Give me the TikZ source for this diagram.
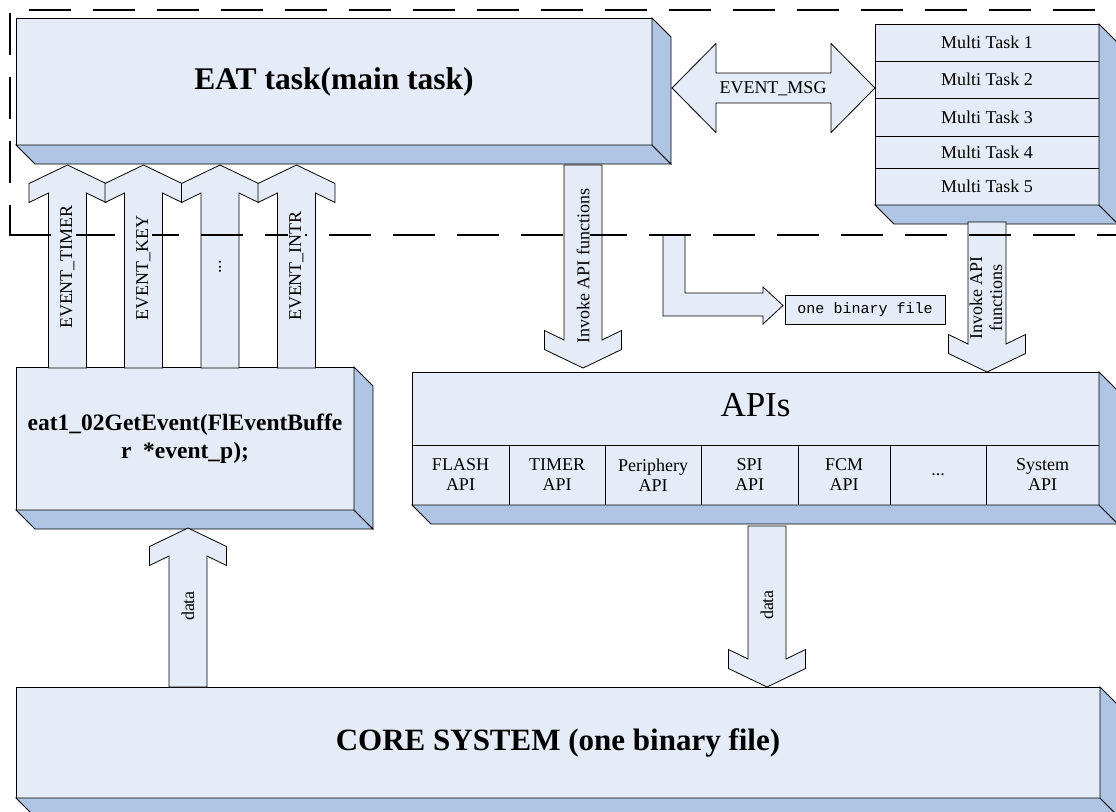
\documentclass[tikz,border=0pt]{standalone}
\usepackage{fontspec}
\setmainfont{Liberation Serif}
\newfontfamily\monofont{Liberation Mono}
\definecolor{frontc}{RGB}{229,236,247}
\definecolor{sidec}{RGB}{176,197,228}
\tikzset{
  face/.style={draw, fill=frontc, line width=0.9pt, inner sep=0pt, outer sep=0pt, align=center},
  sideface/.style={draw, fill=sidec, line width=0.9pt},
  blk/.style={draw, fill=frontc, line width=0.8pt},
  lbl/.style={font=\fontsize{18}{20}\selectfont, inner sep=1pt, fill=frontc, align=center},
  txt/.style={font=\fontsize{18}{20}\selectfont, inner sep=0pt, align=center},
  bound/.style={line width=2.6pt, dash pattern=on 42pt off 22pt},
  divline/.style={line width=0.9pt},
}
% 3D box: name, x1, y1, x2, y2, options, text
\newcommand{\threedbox}[7]{%
  \node[face, minimum width={#4-#2}, minimum height={#5-#3}, #6] (#1) at ({(#2+#4)/2},{(#3+#5)/2}) {#7};
  \draw[sideface] (#1.south west) -- ++(19,19) -- ([shift={(19,19)}]#1.south east) -- (#1.south east) -- cycle;
  \draw[sideface] (#1.north east) -- ++(19,19) -- ([shift={(19,19)}]#1.south east) -- (#1.south east) -- cycle;
}
% vertical block arrow: centre x, tip y, tail y
\newcommand{\vblock}[3]{%
  \pgfmathsetmacro{\blkdir}{(#3>#2)?1:-1}
  \draw[blk] (#1,#2) -- ({#1+38.5},{#2+18.5*\blkdir}) -- ({#1+38.5},{#2+37.5*\blkdir})
    -- ({#1+19},{#2+28*\blkdir}) -- ({#1+19},#3) -- ({#1-19},#3) -- ({#1-19},{#2+28*\blkdir})
    -- ({#1-38.5},{#2+37.5*\blkdir}) -- ({#1-38.5},{#2+18.5*\blkdir}) -- cycle;
}
\begin{document}
\begin{tikzpicture}[x=1pt, y=-1pt]
\useasboundingbox (0,0) rectangle (1116,811);
\clip (0,0) rectangle (1116,811);

% boxes
\threedbox{eat}{16}{18}{652}{145}{font=\fontsize{31.5}{36}\selectfont\bfseries}{EAT task(main task)}
\threedbox{multi}{875}{24}{1099}{205}{}{}
\draw[divline] (875,61) -- (1099,61);
\draw[divline] (875,98) -- (1099,98);
\draw[divline] (875,136) -- (1099,136);
\draw[divline] (875,168) -- (1099,168);
\node[txt] (mt1) at (987,42.5) {Multi Task 1};
\node[txt] (mt2) at (987,79.5) {Multi Task 2};
\node[txt] (mt3) at (987,117) {Multi Task 3};
\node[txt] (mt4) at (987,152) {Multi Task 4};
\node[txt] (mt5) at (987,186.5) {Multi Task 5};

\threedbox{geb}{16}{367}{354}{510}{font=\fontsize{23.5}{28}\selectfont\bfseries}{eat1\_02GetEvent(FlEventBuffe\\r\ \ *event\_p);}

\threedbox{apis}{412}{372}{1099}{505}{}{}
\draw[divline] (412,445) -- (1099,445);
\foreach \xx in {509,605,701,798,890,986} \draw[divline] (\xx,445) -- (\xx,505);
\node[inner sep=0pt, font=\fontsize{35}{40}\selectfont] (apist) at (755.5,405) {APIs};
\node[txt] (c1) at (460.5,475) {FLASH\\API};
\node[txt] (c2) at (557,475) {TIMER\\API};
\node[txt] (c3) at (653,475) {Periphery\\API};
\node[txt] (c4) at (749.5,475) {SPI\\API};
\node[txt] (c5) at (844,475) {FCM\\API};
\node[txt] (c6) at (938,475) {...};
\node[txt] (c7) at (1042.5,475) {System\\API};

\threedbox{core}{16}{687}{1100}{798}{font=\fontsize{31}{36}\selectfont\bfseries}{CORE SYSTEM (one binary file)}

\node[face, minimum width=160, minimum height=29, font=\monofont\fontsize{15}{15}\selectfont] (bin) at (865,309.5) {one binary file};

% block arrows
\vblock{67.5}{165}{368}
\vblock{143.5}{165}{368}
\vblock{220}{165}{368}
\vblock{296.5}{165}{368}
\vblock{583}{368}{165}
\vblock{987}{372}{222}
\vblock{188}{528}{687}
\vblock{767}{687}{526}
\draw[blk] (672,88) -- (716,43.5) -- (716,73) -- (831,73) -- (831,43.5) -- (875,88)
  -- (831,132.5) -- (831,103) -- (716,103) -- (716,132.5) -- cycle;
\draw[blk] (663,235) -- (685,235) -- (685,293) -- (763,293) -- (763,287) -- (783,305.5)
  -- (763,324) -- (763,316) -- (663,316) -- cycle;

% dashed boundary
\draw[bound, dash phase=12pt] (10,235) -- (10,10) -- (1130,10);
\draw[bound, dash phase=0pt] (8.7,235) -- (1130,235);

% arrow labels
\node[lbl, rotate=90] (ltimer) at (67.5,267) {EVENT\_TIMER};
\node[lbl, rotate=90] (lkey) at (143.5,268) {EVENT\_KEY};
\node[lbl, rotate=90] (ldots) at (220,267) {...};
\node[lbl, rotate=90] (lintr) at (296.5,266) {EVENT\_INTR};
\node[lbl, rotate=90] (linv1) at (583,266) {Invoke API functions};
\node[lbl, rotate=90, fill=none] (linv2) at (986,298) {Invoke API\\functions};
\node[lbl, rotate=90] (ldata1) at (188,606) {data};
\node[lbl, rotate=90] (ldata2) at (767,605) {data};
\node[txt] (lmsg) at (773,89) {EVENT\_MSG};
\end{tikzpicture}
\end{document}
